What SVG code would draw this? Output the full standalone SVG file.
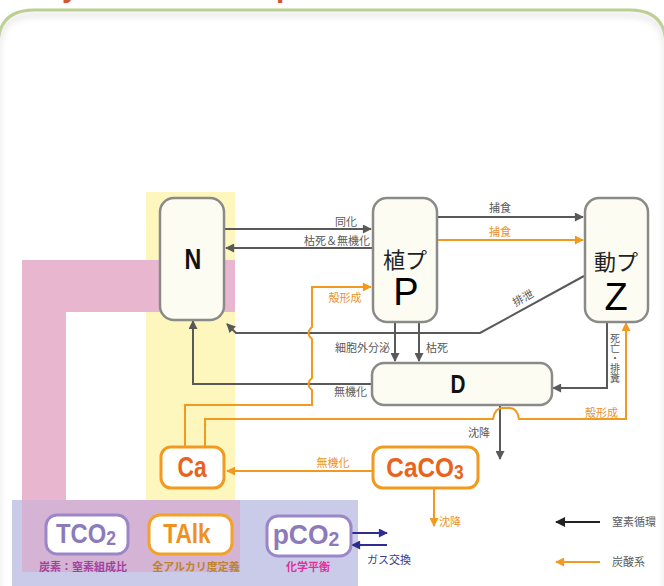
<svg xmlns="http://www.w3.org/2000/svg" width="664" height="586" viewBox="0 0 664 586">
<defs>
<style>
.box{fill:#fdfcf2;stroke:#8a8a88;stroke-width:2.5}
.cb{fill:#ffffff;stroke-width:3}
.g{fill:none;stroke:#595959;stroke-width:2}
.o{fill:none;stroke:#f29a1f;stroke-width:2}
.lg{font-family:"Noto Sans CJK JP","Noto Sans",sans-serif;font-size:11px;fill:#5a5a5a}
.lo{font-family:"Noto Sans CJK JP","Noto Sans",sans-serif;font-size:11px;fill:#e8922a}
.big{font-family:"Liberation Sans",Arial,sans-serif;font-weight:bold;text-anchor:middle}
.jp{font-family:"Noto Sans CJK JP",sans-serif;font-size:22px;fill:#222;text-anchor:middle}
.lt{font-family:"Liberation Sans",Arial,sans-serif;font-size:38px;fill:#000;text-anchor:middle}
.cap{font-family:"Noto Sans CJK JP",sans-serif;font-size:11px;font-weight:bold;text-anchor:middle}
</style>
<marker id="ag" viewBox="0 0 10 10" refX="9" refY="5" markerWidth="10" markerHeight="9" markerUnits="userSpaceOnUse" orient="auto"><path d="M0,0 L10,5 L0,10 z" fill="#595959"/></marker>
<marker id="ao" viewBox="0 0 10 10" refX="9" refY="5" markerWidth="10" markerHeight="9" markerUnits="userSpaceOnUse" orient="auto"><path d="M0,0 L10,5 L0,10 z" fill="#f29a1f"/></marker>
<marker id="ab" viewBox="0 0 10 10" refX="9" refY="5" markerWidth="10" markerHeight="9" markerUnits="userSpaceOnUse" orient="auto"><path d="M0,0 L10,5 L0,10 z" fill="#2e2c8e"/></marker>
<marker id="ak" viewBox="0 0 10 10" refX="9" refY="5" markerWidth="11" markerHeight="10" markerUnits="userSpaceOnUse" orient="auto"><path d="M0,0 L10,5 L0,10 z" fill="#222"/></marker>
<filter id="sh" x="-5%" y="-50%" width="110%" height="300%"><feGaussianBlur stdDeviation="3"/></filter>
</defs>
<rect width="664" height="586" fill="#ffffff"/>
<!-- cut-off title -->
<text x="62" y="-3" font-family="Liberation Sans,Arial,sans-serif" font-weight="bold" font-size="30" fill="#d8532c">y</text>
<text x="276" y="-3" font-family="Liberation Sans,Arial,sans-serif" font-weight="bold" font-size="30" fill="#d8532c">p</text>
<!-- panel -->
<path d="M-2,600 V46 Q-2,10 34,10 H630 Q666,10 666,46 V600" fill="#ffffff" stroke="#b7cf88" stroke-width="3"/>
<path d="M-2,600 V46 Q-2,10 34,10 H630 Q666,10 666,46 V600" fill="none" stroke="#d6d6d6" stroke-width="4" transform="translate(0,5)" filter="url(#sh)" opacity="0.7"/>
<!-- background bands -->
<g id="bands">
<rect x="146" y="192" width="89" height="308" fill="#fdf6bd"/>
<rect x="12" y="500" width="346" height="86" fill="#c9cbe8"/>
<path d="M22,260 H235 V312 H66 V500 H22 Z" fill="#e8b7cf"/>
<rect x="22" y="500" width="218" height="72" fill="#d4b3d4"/>
</g>
<g id="connectors">
<path class="g" d="M224,229 H371" marker-end="url(#ag)"/>
<path class="g" d="M372,248 H226" marker-end="url(#ag)"/>
<path class="g" d="M437,217 H583" marker-end="url(#ag)"/>
<path class="o" d="M437,240 H583" marker-end="url(#ao)"/>
<path class="g" d="M584,276 L480,333 H236 L227,324" marker-end="url(#ag)"/>
<path class="g" d="M395,322 V361" marker-end="url(#ag)"/>
<path class="g" d="M419,322 V361" marker-end="url(#ag)"/>
<path class="g" d="M372,384 H193 V321" marker-end="url(#ag)"/>
<path class="g" d="M607,322 V388 H553" marker-end="url(#ag)"/>
<path class="g" d="M500,405 V459" marker-end="url(#ag)"/>
<path class="o" d="M185,447 V405 H312 V390 q-7,-6 0,-12 V339 q-7,-6 0,-12 V287 H371" marker-end="url(#ao)"/>
<path class="o" d="M372,471 H227" marker-end="url(#ao)"/>
<path class="o" d="M205,447 V419 H493 q2,-11 9,-11 h8 q7,0 9,11 H626 V323" marker-end="url(#ao)"/>
<path class="o" d="M434,488 V526" marker-end="url(#ao)"/>
<path d="M352,533 H387" stroke="#2e2c8e" stroke-width="2" fill="none" marker-end="url(#ab)"/>
<path d="M387,545 H352" stroke="#2e2c8e" stroke-width="2" fill="none" marker-end="url(#ab)"/>
<path d="M600,522 H556" stroke="#222" stroke-width="2" fill="none" marker-end="url(#ak)"/>
<path d="M600,562 H556" stroke="#f29a1f" stroke-width="2" fill="none" marker-end="url(#ao)"/>
</g>
<g id="labels">
<text class="lg" x="357" y="226" text-anchor="end">同化</text>
<text class="lg" x="370" y="245" text-anchor="end">枯死＆無機化</text>
<text class="lg" x="500" y="212" text-anchor="middle">捕食</text>
<text class="lo" x="500" y="236" text-anchor="middle">捕食</text>
<text class="lg" x="523" y="302" text-anchor="middle" transform="rotate(-29 523 298)">排泄</text>
<text class="lg" x="390" y="352" text-anchor="end">細胞外分泌</text>
<text class="lg" x="426" y="352">枯死</text>
<text class="lg" x="367" y="396" text-anchor="end">無機化</text>
<text class="lg" x="479" y="437" text-anchor="middle">沈降</text>
<text class="lg" x="615" y="358" text-anchor="middle" style="writing-mode:vertical-rl;font-size:10px">死亡・排糞</text>
<text class="lo" x="618" y="417" text-anchor="end">殻形成</text>
<text class="lo" x="345" y="302" text-anchor="middle">殻形成</text>
<text class="lo" x="333" y="467" text-anchor="middle">無機化</text>
<text class="lo" x="439" y="526">沈降</text>
<text class="lg" x="367" y="564" style="fill:#3a3c8c">ガス交換</text>
<text class="lg" x="612" y="526">窒素循環</text>
<text class="lg" x="612" y="566">炭酸系</text>
</g>
<g id="N"><rect class="box" x="160" y="198" width="64" height="122" rx="14"/><text class="big" transform="translate(193,269) scale(0.8,1)" font-size="29" fill="#111">N</text></g>
<g id="P"><rect class="box" x="373" y="198" width="64" height="124" rx="14"/><text class="jp" x="405" y="268">植プ</text><text class="lt" x="406" y="305">P</text></g>
<g id="Z"><rect class="box" x="585" y="198" width="63" height="124" rx="14"/><text class="jp" x="616" y="270">動プ</text><text class="lt" x="616" y="310">Z</text></g>
<g id="D"><rect class="box" x="372" y="363" width="180" height="42" rx="12"/><text class="big" transform="translate(458,393) scale(0.83,1)" font-size="25" fill="#111">D</text></g>
<g id="Ca"><rect class="cb" x="161" y="447" width="63" height="41" rx="10" stroke="#f29a1f"/><text class="big" transform="translate(192,477) scale(0.76,1)" font-size="30" fill="#e8641c">Ca</text></g>
<g id="CaCO3"><rect class="cb" x="373" y="447" width="105" height="41" rx="10" stroke="#f29a1f"/><text class="big" transform="translate(425,477) scale(0.87,1)" font-size="28" fill="#e8641c">CaCO<tspan font-size="20" dy="2">3</tspan></text></g>
<g id="TCO2"><rect class="cb" x="46" y="515" width="82" height="39" rx="11" stroke="#9b87c8"/><text class="big" transform="translate(86,543) scale(0.88,1)" font-size="27" fill="#8c7bbb">TCO<tspan font-size="20" dy="2">2</tspan></text><text class="cap" x="83" y="571" fill="#a2429e">炭素：窒素組成比</text></g>
<g id="TAlk"><rect class="cb" x="149" y="515" width="83" height="39" rx="11" stroke="#f2a228"/><text class="big" transform="translate(187,543) scale(0.84,1)" font-size="27" fill="#f0901e">TAlk</text><text class="cap" x="196" y="571" fill="#bb8430">全アルカリ度定義</text></g>
<g id="pCO2"><rect class="cb" x="267" y="516" width="84" height="40" rx="11" stroke="#9b87c8"/><text class="big" transform="translate(306,544) scale(0.98,1)" font-size="27" fill="#8c7bbb">pCO<tspan font-size="20" dy="2">2</tspan></text><text class="cap" x="308" y="571" fill="#e0309c">化学平衡</text></g>
</svg>
